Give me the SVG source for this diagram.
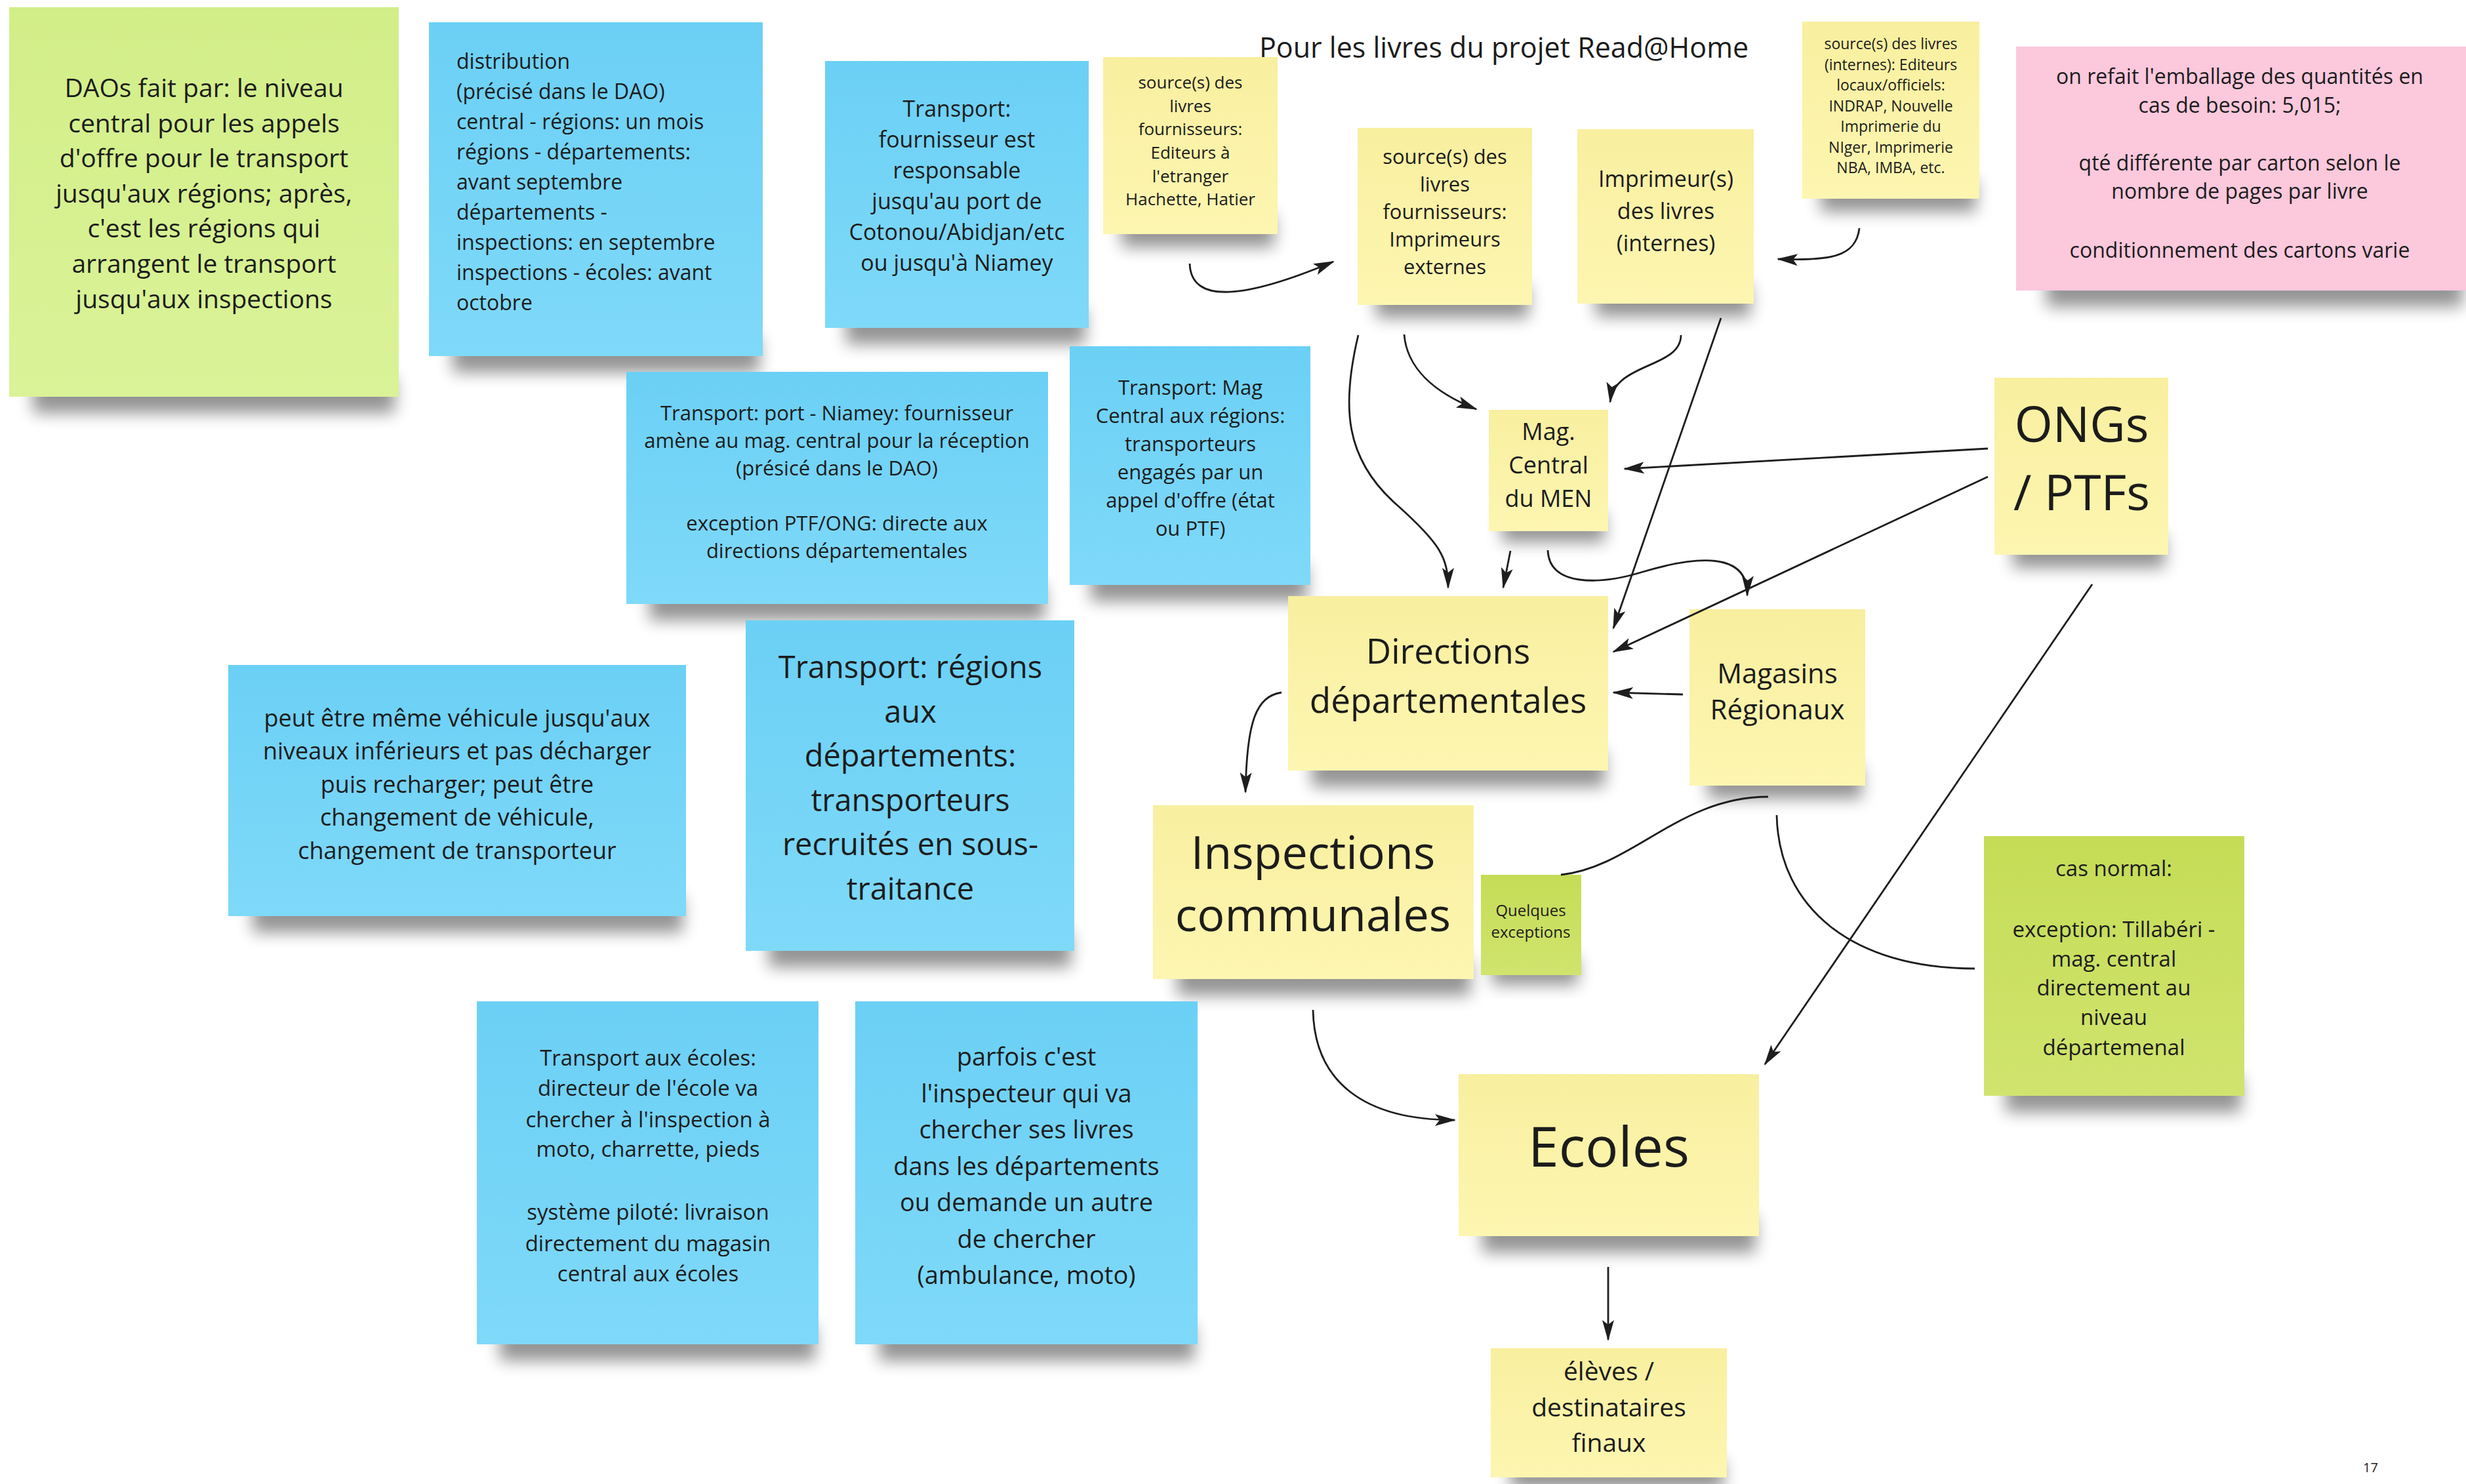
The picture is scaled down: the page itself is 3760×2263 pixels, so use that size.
<svg xmlns="http://www.w3.org/2000/svg" width="3760" height="2263" viewBox="0 0 3760 2263">
<defs>
<style>
.t{font-family:"Open Sans","Liberation Sans",sans-serif;fill:#1c1c1c;text-anchor:middle}
.tl{text-anchor:start}
.sh{fill:#000;opacity:0.42;filter:url(#blur)}
.b{fill:url(#gb)}
.y{fill:url(#gy)}
.g{fill:url(#gg)}
.lg{fill:url(#glg)}
.p{fill:#fbc8dc}
.c{fill:none;stroke:#1e1e1e;stroke-width:2.8}
.a{marker-end:url(#arr)}
</style>
<linearGradient id="gb" x1="0" y1="0" x2="0" y2="1"><stop offset="0" stop-color="#6bd0f5"/><stop offset="1" stop-color="#7fd9f9"/></linearGradient>
<linearGradient id="gy" x1="0" y1="0" x2="0" y2="1"><stop offset="0" stop-color="#f8ef9f"/><stop offset="1" stop-color="#fdf6b1"/></linearGradient>
<linearGradient id="gg" x1="0" y1="0" x2="0" y2="1"><stop offset="0" stop-color="#c5dc56"/><stop offset="1" stop-color="#d0e46e"/></linearGradient>
<linearGradient id="glg" x1="0" y1="0" x2="0" y2="1"><stop offset="0" stop-color="#d2ee88"/><stop offset="1" stop-color="#daf398"/></linearGradient>
<filter id="blur" x="-20%" y="-50%" width="140%" height="200%"><feGaussianBlur stdDeviation="12"/></filter>
<marker id="arr" markerUnits="userSpaceOnUse" markerWidth="34" markerHeight="22" refX="30" refY="11" orient="auto"><path d="M0,2 L32,11 L0,20 L7,11 z" fill="#1e1e1e"/></marker>
</defs>
<rect width="3760" height="2263" fill="#ffffff"/>

<text class="t tl" x="1920" y="88" font-size="43">Pour les livres du projet Read@Home</text>

<g id="n-dao">
<rect class="sh" x="50" y="575" width="552" height="55"/>
<rect class="lg" x="14" y="11" width="594" height="594"/>
<text class="t" font-size="39"><tspan x="311" y="148">DAOs fait par: le niveau</tspan><tspan x="311" y="202">central pour les appels</tspan><tspan x="311" y="255">d'offre pour le transport</tspan><tspan x="311" y="309">jusqu'aux régions; après,</tspan><tspan x="311" y="362">c'est les régions qui</tspan><tspan x="311" y="416">arrangent le transport</tspan><tspan x="311" y="470">jusqu'aux inspections</tspan></text>
</g>

<g id="n-distribution">
<rect class="sh" x="690" y="513" width="468" height="55"/>
<rect class="b" x="654" y="34" width="509" height="509"/>
<text class="t tl" font-size="32"><tspan x="696" y="105">distribution</tspan><tspan x="696" y="151">(précisé dans le DAO)</tspan><tspan x="696" y="197">central - régions: un mois</tspan><tspan x="696" y="243">régions - départements:</tspan><tspan x="696" y="289">avant septembre</tspan><tspan x="696" y="335">départements -</tspan><tspan x="696" y="381">inspections: en septembre</tspan><tspan x="696" y="427">inspections - écoles: avant</tspan><tspan x="696" y="473">octobre</tspan></text>
</g>

<g id="n-transport-fournisseur">
<rect class="sh" x="1290" y="470" width="365" height="55"/>
<rect class="b" x="1258" y="93" width="402" height="407"/>
<text class="t" font-size="34"><tspan x="1459" y="178">Transport:</tspan><tspan x="1459" y="225">fournisseur est</tspan><tspan x="1459" y="272">responsable</tspan><tspan x="1459" y="319">jusqu'au port de</tspan><tspan x="1459" y="366">Cotonou/Abidjan/etc</tspan><tspan x="1459" y="413">ou jusqu'à Niamey</tspan></text>
</g>

<g id="n-src-etranger">
<rect class="sh" x="1710" y="327" width="233" height="50"/>
<rect class="y" x="1682" y="87" width="266" height="270"/>
<text class="t" font-size="26"><tspan x="1815" y="135">source(s) des</tspan><tspan x="1815" y="171">livres</tspan><tspan x="1815" y="206">fournisseurs:</tspan><tspan x="1815" y="242">Editeurs à</tspan><tspan x="1815" y="278">l'etranger</tspan><tspan x="1815" y="313">Hachette, Hatier</tspan></text>
</g>

<g id="n-imprimeurs-externes">
<rect class="sh" x="2098" y="435" width="233" height="50"/>
<rect class="y" x="2070" y="195" width="266" height="270"/>
<text class="t" font-size="31"><tspan x="2203" y="250">source(s) des</tspan><tspan x="2203" y="292">livres</tspan><tspan x="2203" y="334">fournisseurs:</tspan><tspan x="2203" y="376">Imprimeurs</tspan><tspan x="2203" y="418">externes</tspan></text>
</g>

<g id="n-imprimeurs-internes">
<rect class="sh" x="2433" y="433" width="236" height="50"/>
<rect class="y" x="2405" y="197" width="269" height="266"/>
<text class="t" font-size="34"><tspan x="2540" y="285">Imprimeur(s)</tspan><tspan x="2540" y="334">des livres</tspan><tspan x="2540" y="383">(internes)</tspan></text>
</g>

<g id="n-src-internes">
<rect class="sh" x="2776" y="273" width="237" height="50"/>
<rect class="y" x="2748" y="33" width="270" height="270"/>
<text class="t" font-size="23"><tspan x="2883" y="75">source(s) des livres</tspan><tspan x="2883" y="107">(internes): Editeurs</tspan><tspan x="2883" y="138">locaux/officiels:</tspan><tspan x="2883" y="170">INDRAP, Nouvelle</tspan><tspan x="2883" y="201">Imprimerie du</tspan><tspan x="2883" y="233">NIger, Imprimerie</tspan><tspan x="2883" y="264">NBA, IMBA, etc.</tspan></text>
</g>

<g id="n-emballage">
<rect class="sh" x="3120" y="413" width="635" height="55"/>
<rect class="p" x="3074" y="71" width="686" height="372"/>
<text class="t" font-size="32"><tspan x="3415" y="128">on refait l'emballage des quantités en</tspan><tspan x="3415" y="172">cas de besoin: 5,015;</tspan><tspan x="3415" y="260">qté différente par carton selon le</tspan><tspan x="3415" y="303">nombre de pages par livre</tspan><tspan x="3415" y="393">conditionnement des cartons varie</tspan></text>
</g>

<g id="n-transport-port">
<rect class="sh" x="990" y="891" width="603" height="55"/>
<rect class="b" x="955" y="567" width="643" height="354"/>
<text class="t" font-size="31"><tspan x="1276" y="641">Transport: port - Niamey: fournisseur</tspan><tspan x="1276" y="683">amène au mag. central pour la réception</tspan><tspan x="1276" y="725">(présicé dans le DAO)</tspan><tspan x="1276" y="809">exception PTF/ONG: directe aux</tspan><tspan x="1276" y="851">directions départementales</tspan></text>
</g>

<g id="n-transport-mag">
<rect class="sh" x="1663" y="862" width="330" height="55"/>
<rect class="b" x="1631" y="528" width="367" height="364"/>
<text class="t" font-size="31"><tspan x="1815" y="602">Transport: Mag</tspan><tspan x="1815" y="645">Central aux régions:</tspan><tspan x="1815" y="688">transporteurs</tspan><tspan x="1815" y="731">engagés par un</tspan><tspan x="1815" y="774">appel d'offre (état</tspan><tspan x="1815" y="817">ou PTF)</tspan></text>
</g>

<g id="n-mag-central">
<rect class="sh" x="2290" y="782" width="157" height="45"/>
<rect class="y" x="2270" y="625" width="182" height="185"/>
<text class="t" font-size="36"><tspan x="2361" y="671">Mag.</tspan><tspan x="2361" y="722">Central</tspan><tspan x="2361" y="773">du MEN</tspan></text>
</g>

<g id="n-directions">
<rect class="sh" x="2000" y="1145" width="447" height="55"/>
<rect class="y" x="1964" y="909" width="488" height="266"/>
<text class="t" font-size="53"><tspan x="2208" y="1012">Directions</tspan><tspan x="2208" y="1087">départementales</tspan></text>
</g>

<g id="n-magasins-regionaux">
<rect class="sh" x="2604" y="1168" width="235" height="50"/>
<rect class="y" x="2576" y="929" width="268" height="269"/>
<text class="t" font-size="42"><tspan x="2710" y="1042">Magasins</tspan><tspan x="2710" y="1097">Régionaux</tspan></text>
</g>

<g id="n-ongs">
<rect class="sh" x="3069" y="816" width="232" height="50"/>
<rect class="y" x="3041" y="576" width="265" height="270"/>
<text class="t" font-size="75"><tspan x="3174" y="674">ONGs</tspan><tspan x="3174" y="778">/ PTFs</tspan></text>
</g>

<g id="n-vehicule">
<rect class="sh" x="385" y="1367" width="656" height="55"/>
<rect class="b" x="348" y="1014" width="698" height="383"/>
<text class="t" font-size="36"><tspan x="697" y="1108">peut être même véhicule jusqu'aux</tspan><tspan x="697" y="1158">niveaux inférieurs et pas décharger</tspan><tspan x="697" y="1209">puis recharger; peut être</tspan><tspan x="697" y="1259">changement de véhicule,</tspan><tspan x="697" y="1310">changement de transporteur</tspan></text>
</g>

<g id="n-transport-regions">
<rect class="sh" x="1172" y="1420" width="461" height="55"/>
<rect class="b" x="1137" y="946" width="501" height="504"/>
<text class="t" font-size="47"><tspan x="1388" y="1034">Transport: régions</tspan><tspan x="1388" y="1102">aux</tspan><tspan x="1388" y="1169">départements:</tspan><tspan x="1388" y="1237">transporteurs</tspan><tspan x="1388" y="1304">recruités en sous-</tspan><tspan x="1388" y="1372">traitance</tspan></text>
</g>

<g id="n-inspections">
<rect class="sh" x="1795" y="1463" width="447" height="55"/>
<rect class="y" x="1758" y="1228" width="489" height="265"/>
<text class="t" font-size="70"><tspan x="2002" y="1325">Inspections</tspan><tspan x="2002" y="1420">communales</tspan></text>
</g>

<g id="n-quelques">
<rect class="sh" x="2275" y="1460" width="131" height="42"/>
<rect class="g" x="2258" y="1334" width="153" height="153"/>
<text class="t" font-size="24"><tspan x="2334" y="1397">Quelques</tspan><tspan x="2334" y="1430">exceptions</tspan></text>
</g>

<g id="n-ecoles">
<rect class="sh" x="2260" y="1855" width="417" height="55"/>
<rect class="y" x="2224" y="1638" width="458" height="247"/>
<text class="t" font-size="84" x="2453" y="1779">Ecoles</text>
</g>

<g id="n-eleves">
<rect class="sh" x="2303" y="2226" width="325" height="45"/>
<rect class="y" x="2273" y="2056" width="360" height="197"/>
<text class="t" font-size="39"><tspan x="2453" y="2105">élèves /</tspan><tspan x="2453" y="2160">destinataires</tspan><tspan x="2453" y="2214">finaux</tspan></text>
</g>

<g id="n-cas-normal">
<rect class="sh" x="3058" y="1641" width="359" height="55"/>
<rect class="g" x="3025" y="1275" width="397" height="396"/>
<text class="t" font-size="33"><tspan x="3223" y="1336">cas normal:</tspan><tspan x="3223" y="1429">exception: Tillabéri -</tspan><tspan x="3223" y="1474">mag. central</tspan><tspan x="3223" y="1518">directement au</tspan><tspan x="3223" y="1563">niveau</tspan><tspan x="3223" y="1609">départemenal</tspan></text>
</g>

<g id="n-transport-ecoles">
<rect class="sh" x="762" y="2020" width="481" height="55"/>
<rect class="b" x="727" y="1527" width="521" height="523"/>
<text class="t" font-size="33"><tspan x="988" y="1625">Transport aux écoles:</tspan><tspan x="988" y="1671">directeur de l'école va</tspan><tspan x="988" y="1719">chercher à l'inspection à</tspan><tspan x="988" y="1764">moto, charrette, pieds</tspan><tspan x="988" y="1860">système piloté: livraison</tspan><tspan x="988" y="1908">directement du magasin</tspan><tspan x="988" y="1954">central aux écoles</tspan></text>
</g>

<g id="n-parfois">
<rect class="sh" x="1340" y="2020" width="481" height="55"/>
<rect class="b" x="1304" y="1527" width="522" height="523"/>
<text class="t" font-size="38"><tspan x="1565" y="1625">parfois c'est</tspan><tspan x="1565" y="1681">l'inspecteur qui va</tspan><tspan x="1565" y="1736">chercher ses livres</tspan><tspan x="1565" y="1792">dans les départements</tspan><tspan x="1565" y="1847">ou demande un autre</tspan><tspan x="1565" y="1903">de chercher</tspan><tspan x="1565" y="1958">(ambulance, moto)</tspan></text>
</g>

<text class="t tl" x="3603" y="2245" font-size="20">17</text>

<g id="connectors">
<path class="c a" d="M1814,402 C1816,465 1900,455 2033,399"/>
<path class="c a" d="M2835,348 C2830,392 2790,398 2711,395"/>
<path class="c a" d="M2071,511 C2045,620 2050,700 2130,770 C2195,828 2208,850 2208,896"/>
<path class="c a" d="M2141,510 C2145,560 2185,598 2251,624"/>
<path class="c a" d="M2563,511 C2563,562 2462,552 2455,613"/>
<path class="c a" d="M2624,485 L2460,958"/>
<path class="c a" d="M3031,684 L2477,715"/>
<path class="c a" d="M3031,727 L2460,994"/>
<path class="c a" d="M2303,840 L2292,896"/>
<path class="c a" d="M2360,839 C2362,895 2440,892 2505,872 C2585,848 2666,840 2664,908"/>
<path class="c a" d="M2566,1059 L2460,1056"/>
<path class="c a" d="M1954,1056 C1915,1062 1901,1100 1899,1208"/>
<path class="c" d="M2696,1215 C2560,1215 2490,1322 2380,1334"/>
<path class="c" d="M2709,1243 C2712,1385 2825,1477 3011,1477"/>
<path class="c a" d="M3190,891 L2691,1623"/>
<path class="c a" d="M2002,1540 C2004,1650 2080,1708 2218,1708"/>
<path class="c a" d="M2452,1932 L2452,2043"/>
</g>
</svg>
